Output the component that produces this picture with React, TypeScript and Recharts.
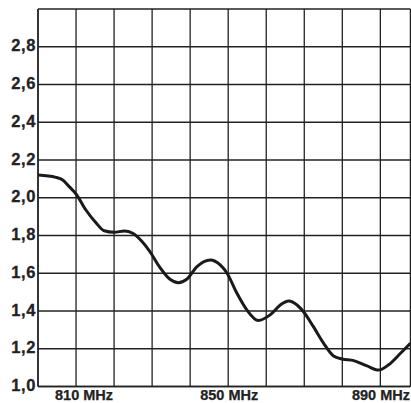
import React from "react";
import { LineChart, Line, XAxis, YAxis, CartesianGrid } from "recharts";

const freqMHz = [
  800, 804.7, 806.5, 808.2, 810, 812.6, 815.3, 817.4, 820, 822.7, 824.9, 827.4,
  829.7, 831.9, 834.7, 836.9, 839.1, 841.8, 845.3, 847.9, 849.7, 852.3, 854.9,
  857.9, 861.1, 863.7, 865.9, 868.1, 869.8, 872.4, 875.1, 877.7, 879.9, 883,
  886.5, 889.5, 892.1, 895.3, 897.9,
];
const vswr = [
  2.12, 2.108, 2.094, 2.059, 2.02, 1.935, 1.866, 1.825, 1.817, 1.824, 1.812,
  1.767, 1.706, 1.635, 1.568, 1.55, 1.568, 1.635, 1.67, 1.644, 1.6, 1.494,
  1.406, 1.35, 1.381, 1.432, 1.453, 1.432, 1.396, 1.317, 1.229, 1.162, 1.146,
  1.137, 1.109, 1.087, 1.114, 1.176, 1.229,
];
const xTicks = [800, 810, 820, 830, 840, 850, 860, 870, 880, 890];
const xLabelTicks = [810, 850, 890];
const yTicks = [1.0, 1.2, 1.4, 1.6, 1.8, 2.0, 2.2, 2.4, 2.6, 2.8, 3.0];

const data = freqMHz.map((f, i) => ({ f, v: vswr[i] }));

const FONT = "'Liberation Sans', Arial, Helvetica, sans-serif";

const YTick = (props: any) => {
  const { x, y, payload } = props;
  const v = payload.value as number;
  if (Math.abs(v - 3) < 1e-6) return null;
  return (
    <text
      x={x}
      y={y + 4.5}
      textAnchor="end"
      fontFamily={FONT}
      fontWeight="bold"
      fontSize={16.5}
      letterSpacing={0.6}
      fill="#222"
      stroke="#222"
      strokeWidth={0.3}
    >
      {v.toFixed(1).replace(".", ",")}
    </text>
  );
};

const XTick = (props: any) => {
  const { x, y, payload } = props;
  const v = payload.value as number;
  if (!xLabelTicks.includes(v)) return null;
  const isLast = v === 890;
  const tx = v === 810 ? x + 8 : isLast ? 402 : x + 1;
  return (
    <text
      x={tx}
      y={y + 13.5}
      textAnchor={isLast ? "end" : "middle"}
      fontFamily={FONT}
      fontWeight="bold"
      fontSize={14.5}
      fill="#222"
      stroke="#222"
      strokeWidth={0.25}
    >
      {`${v} MHz`}
    </text>
  );
};

export default function App() {
  return (
    <div
      style={{
        position: "absolute",
        left: 8,
        top: 8,
        width: 403,
        height: 395,
        overflow: "hidden",
      }}
    >
      <LineChart
        width={403}
        height={395}
        data={data}
        margin={{ top: 1, right: 0.6, left: 0, bottom: 0 }}
      >
        <CartesianGrid stroke="#222" strokeWidth={1.3} horizontal vertical />
        <XAxis
          dataKey="f"
          type="number"
          domain={[800, 897.9]}
          ticks={xTicks}
          height={16.5}
          tickLine={false}
          tickSize={0}
          tickMargin={0}
          axisLine={{ stroke: "#222", strokeWidth: 1.5 }}
          tick={<XTick />}
          interval={0}
          allowDataOverflow
        />
        <YAxis
          type="number"
          domain={[1, 3]}
          ticks={yTicks}
          width={30}
          tickLine={false}
          tickSize={0}
          tickMargin={2}
          axisLine={{ stroke: "#222", strokeWidth: 1.5 }}
          tick={<YTick />}
          interval={0}
          allowDataOverflow
        />
        <Line
          type="monotone"
          dataKey="v"
          stroke="#1a1a1a"
          strokeWidth={3}
          dot={false}
          isAnimationActive={false}
        />
      </LineChart>
    </div>
  );
}
